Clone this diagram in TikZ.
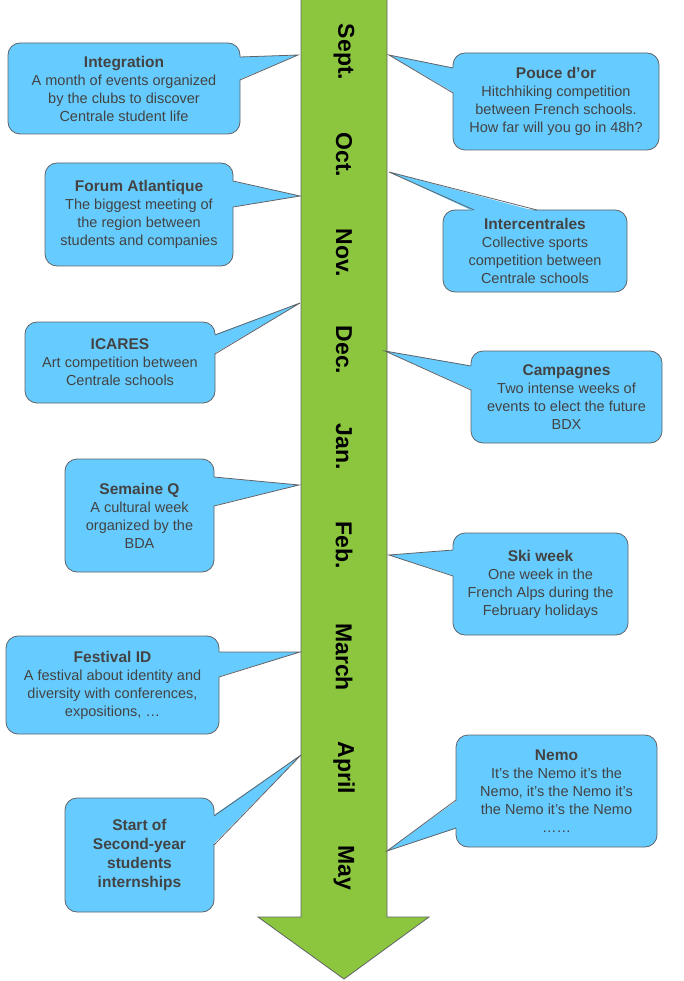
\documentclass[tikz,border=0pt]{standalone}
\usepackage{fontspec}
\setmainfont{Liberation Sans}
\usetikzlibrary{calc}
\definecolor{arrowgreen}{HTML}{8CC63F}
\definecolor{bubbleblue}{HTML}{66CCFF}
\definecolor{bubbleline}{HTML}{5F6368}
\definecolor{bubbletext}{HTML}{434343}
\newcommand{\bubbletitle}[1]{{\fontsize{15.5}{18}\selectfont\bfseries #1}}

\begin{document}
\begin{tikzpicture}[x=1pt,y=-1pt,
  bubble/.style={draw=bubbleline,fill=bubbleblue,line width=0.8pt,rounded corners=12pt,inner sep=0pt,outer sep=0pt,align=center,text=bubbletext,font=\fontsize{14.5}{18}\selectfont},
  bubble fill/.style={fill=bubbleblue},
  bubble edge/.style={draw=bubbleline,line width=0.8pt,line join=miter},
  month/.style={rotate=-90,font=\fontsize{23}{26}\selectfont\bfseries}]
  \useasboundingbox (0,0) rectangle (684,981);

  %timeline
  \draw[fill=arrowgreen,draw=bubbleline,line width=0.8pt] (301,-2) -- (387,-2) -- (387,917) -- (429,917) -- (344,979) -- (258,917) -- (301,917) -- cycle;
  \node[month] (sept) at (344,52) {Sept.};
  \node[month] (oct) at (344,155) {Oct.};
  \node[month] (nov) at (344,253) {Nov.};
  \node[month] (dec) at (344,350) {Dec.};
  \node[month] (jan) at (344,447) {Jan.};
  \node[month] (feb) at (344,545) {Feb.};
  \node[month] (march) at (344,657) {March};
  \node[month] (april) at (344,768) {April};
  \node[month] (may) at (344,868) {May};

  %left
  \node[bubble,minimum width=232pt,minimum height=91pt] (integration) at (124,88.5) {\bubbletitle{Integration}\\A month of events organized\\by the clubs to discover\\Centrale student life};
  \coordinate (integration tip) at (298,55);
  \fill[bubble fill] ($(integration.north east)+(-1.5,14)$) -- (integration tip) -- ($(integration.north east)+(-1.5,37)$) -- cycle;
  \draw[bubble edge] ($(integration.north east)+(0,14)$) -- (integration tip) -- ($(integration.north east)+(0,37)$);

  \node[bubble,minimum width=188pt,minimum height=103pt] (forum) at (139,214.5) {\bubbletitle{Forum Atlantique}\\The biggest meeting of\\the region between\\students and companies};
  \coordinate (forum tip) at (300,196);
  \fill[bubble fill] ($(forum.north east)+(-1.5,18)$) -- (forum tip) -- ($(forum.north east)+(-1.5,44)$) -- cycle;
  \draw[bubble edge] ($(forum.north east)+(0,18)$) -- (forum tip) -- ($(forum.north east)+(0,44)$);

  \node[bubble,minimum width=190pt,minimum height=81pt] (icares) at (120,362.5) {\bubbletitle{ICARES}\\Art competition between\\Centrale schools};
  \coordinate (icares tip) at (300,303);
  \fill[bubble fill] ($(icares.north east)+(-1.5,13)$) -- (icares tip) -- ($(icares.north east)+(-1.5,32)$) -- cycle;
  \draw[bubble edge] ($(icares.north east)+(0,13)$) -- (icares tip) -- ($(icares.north east)+(0,32)$);

  \node[bubble,minimum width=149pt,minimum height=113pt] (semaine) at (139.5,515.5) {\bubbletitle{Semaine Q}\\A cultural week\\organized by the\\BDA};
  \coordinate (semaine tip) at (299,485);
  \fill[bubble fill] ($(semaine.north east)+(-1.5,18)$) -- (semaine tip) -- ($(semaine.north east)+(-1.5,47)$) -- cycle;
  \draw[bubble edge] ($(semaine.north east)+(0,18)$) -- (semaine tip) -- ($(semaine.north east)+(0,47)$);

  \node[bubble,minimum width=213pt,minimum height=98pt] (festival) at (112.5,685) {\bubbletitle{Festival ID}\\A festival about identity and\\diversity with conferences,\\expositions, …};
  \coordinate (festival tip) at (300,652);
  \fill[bubble fill] ($(festival.north east)+(-1.5,16)$) -- (festival tip) -- ($(festival.north east)+(-1.5,41)$) -- cycle;
  \draw[bubble edge] ($(festival.north east)+(0,16)$) -- (festival tip) -- ($(festival.north east)+(0,41)$);

  \node[bubble,minimum width=149pt,minimum height=114pt,font=\fontsize{15.5}{19}\selectfont\bfseries] (internships) at (139.5,855) {Start of\\Second-year\\students\\internships};
  \coordinate (internships tip) at (301,755);
  \fill[bubble fill] ($(internships.north east)+(-1.5,18)$) -- (internships tip) -- ($(internships.north east)+(-1.5,47)$) -- cycle;
  \draw[bubble edge] ($(internships.north east)+(0,18)$) -- (internships tip) -- ($(internships.north east)+(0,47)$);

  %right
  \node[bubble,minimum width=206pt,minimum height=97pt] (pouce) at (556,101.5) {\bubbletitle{Pouce d’or}\\Hitchhiking competition\\between French schools.\\How far will you go in 48h?};
  \coordinate (pouce tip) at (389,55);
  \fill[bubble fill] ($(pouce.north west)+(1.5,15)$) -- (pouce tip) -- ($(pouce.north west)+(1.5,40)$) -- cycle;
  \draw[bubble edge] ($(pouce.north west)+(0,15)$) -- (pouce tip) -- ($(pouce.north west)+(0,40)$);

  \node[bubble,minimum width=184pt,minimum height=82pt] (intercentrales) at (535,251) {\bubbletitle{Intercentrales}\\Collective sports\\competition between\\Centrale schools};
  \coordinate (intercentrales tip) at (389,172);
  \fill[bubble fill] ($(intercentrales.north west)+(31,1.5)$) -- (intercentrales tip) -- ($(intercentrales.north west)+(94,1.5)$) -- cycle;
  \draw[bubble edge] ($(intercentrales.north west)+(31,0)$) -- (intercentrales tip) -- ($(intercentrales.north west)+(94,0)$);

  \node[bubble,minimum width=191pt,minimum height=92pt] (campagnes) at (566.5,397) {\bubbletitle{Campagnes}\\Two intense weeks of\\events to elect the future\\BDX};
  \coordinate (campagnes tip) at (385,351);
  \fill[bubble fill] ($(campagnes.north west)+(1.5,15)$) -- (campagnes tip) -- ($(campagnes.north west)+(1.5,39)$) -- cycle;
  \draw[bubble edge] ($(campagnes.north west)+(0,15)$) -- (campagnes tip) -- ($(campagnes.north west)+(0,39)$);

  \node[bubble,minimum width=175pt,minimum height=102pt] (ski) at (540.5,584) {\bubbletitle{Ski week}\\One week in the\\French Alps during the\\February holidays};
  \coordinate (ski tip) at (389,555);
  \fill[bubble fill] ($(ski.north west)+(1.5,17)$) -- (ski tip) -- ($(ski.north west)+(1.5,43)$) -- cycle;
  \draw[bubble edge] ($(ski.north west)+(0,17)$) -- (ski tip) -- ($(ski.north west)+(0,43)$);

  \node[bubble,minimum width=201pt,minimum height=112pt] (nemo) at (556.5,791) {\bubbletitle{Nemo}\\It’s the Nemo it’s the\\Nemo, it’s the Nemo it’s\\the Nemo it’s the Nemo\\……};
  \coordinate (nemo tip) at (387,851);
  \fill[bubble fill] ($(nemo.north west)+(1.5,65)$) -- (nemo tip) -- ($(nemo.north west)+(1.5,93)$) -- cycle;
  \draw[bubble edge] ($(nemo.north west)+(0,65)$) -- (nemo tip) -- ($(nemo.north west)+(0,93)$);
\end{tikzpicture}
\end{document}
